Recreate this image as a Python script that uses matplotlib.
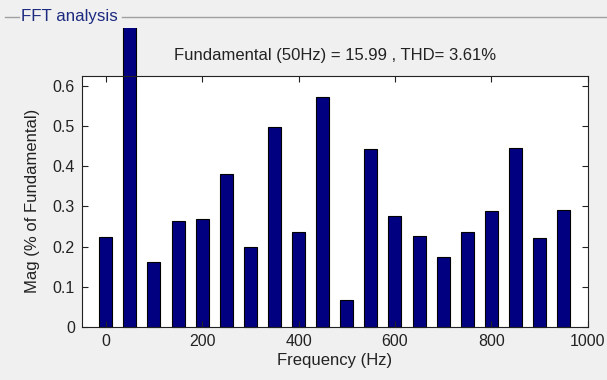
import numpy as np
import matplotlib
matplotlib.use("Agg")
import matplotlib.pyplot as plt
from matplotlib.transforms import Bbox, TransformedBbox

plt.rcParams['font.family'] = ['Liberation Sans', 'DejaVu Sans']

# Harmonic spectrum (% of fundamental), fundamental is 100 and runs off the panel
freqs = [0, 50, 100, 150, 200, 250, 300, 350, 400, 450,
         500, 550, 600, 650, 700, 750, 800, 850, 900, 950]
mags = [0.224, 100.0, 0.161, 0.263, 0.269, 0.382, 0.200, 0.497, 0.235, 0.573,
        0.067, 0.442, 0.276, 0.227, 0.175, 0.235, 0.288, 0.446, 0.220, 0.290]
xticks = [0, 200, 400, 600, 800, 1000]
yticks = [0, 0.1, 0.2, 0.3, 0.4, 0.5, 0.6]
title = "Fundamental (50Hz) = 15.99 , THD= 3.61%"

W, H = 607, 380
fig = plt.figure(figsize=(W / 100, H / 100), dpi=100, facecolor='#f0f0f0')

ax = fig.add_axes([81.7 / W, 1 - 326.7 / H, 506 / W, 251 / H])
ax.set_facecolor('white')

bars = ax.bar(freqs, mags, width=27, color='#000080', edgecolor='black',
              linewidth=0.8)
# the fundamental bar pokes above the axes, cut off near the panel frame
clip = TransformedBbox(Bbox([[0, 0], [1, 1 - 27.5 / H]]), fig.transFigure)
for b in bars:
    b.set_clip_path(None)
    b.set_clip_box(clip)
    b.set_clip_on(True)

ax.set_xlim(-50, 1000)
ax.set_ylim(0, 0.626)
ax.set_xticks(xticks)
ax.set_yticks(yticks)
ax.set_yticklabels(['0', '0.1', '0.2', '0.3', '0.4', '0.5', '0.6'])
ax.tick_params(direction='in', length=4, width=0.8, top=True, right=True,
               labelsize=11.5, colors='#222222', pad=5)
for s in ax.spines.values():
    s.set_linewidth(0.8)
    s.set_color('#222222')

ax.set_xlabel("Frequency (Hz)", fontsize=12, color='#222222', labelpad=3)
ax.set_ylabel("Mag (% of Fundamental)", fontsize=12, color='#222222', labelpad=9)
ax.set_title(title, fontsize=12, color='#222222', pad=11)

# panel frame with its label
fy = 1 - 17 / H
fig.add_artist(plt.Line2D([5 / W, 19 / W], [fy, fy], color='#a0a0a0', lw=1))
fig.add_artist(plt.Line2D([122 / W, 1.0], [fy, fy], color='#a0a0a0', lw=1))
fig.text(21 / W, fy, "FFT analysis", color='#1c2a80', fontsize=12.2,
         va='center', ha='left')

fig.savefig("out.png", dpi=100, facecolor=fig.get_facecolor())
